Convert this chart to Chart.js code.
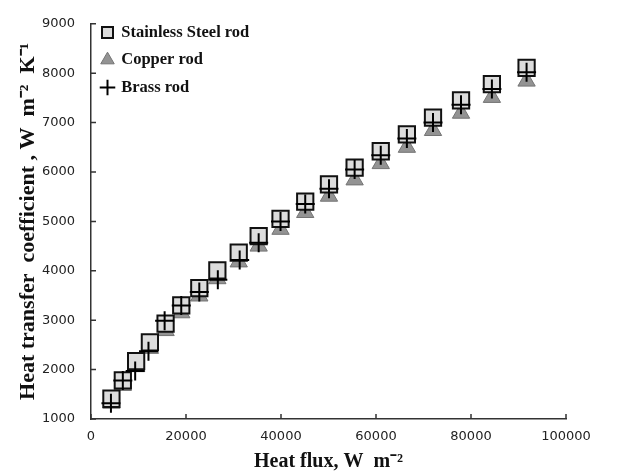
<!DOCTYPE html>
<html>
<head>
<meta charset="utf-8">
<script src="https://cdn.jsdelivr.net/npm/chart.js@4.4.1/dist/chart.umd.min.js"></script>
<style>
  html, body { margin: 0; padding: 0; background: #fff; }
  #wrap { width: 638px; height: 474px; }
</style>
</head>
<body>
<div id="wrap"><canvas id="c" width="638" height="474"></canvas></div>
<script>
// Heat flux (W m^-2) for each test point
const heatFlux = [4300, 6700, 9500, 12400, 15700, 19000, 22800, 26600, 31100, 35300,
                  39900, 45100, 50100, 55500, 61000, 66500, 72000, 77900, 84400, 91700];
const brassFlux = [4200, 6700, 9300, 12100, 15500, 19000, 22800, 26700, 31300, 35300,
                   39900, 45100, 50100, 55500, 61000, 66500, 72000, 77900, 84400, 91700];

// Heat transfer coefficient (W m^-2 K^-1) per rod material
const stainlessSteel = [1410, 1780, 2170, 2550, 2930, 3300, 3650, 4010, 4370, 4700,
                        5050, 5400, 5750, 6090, 6420, 6760, 7100, 7450, 7780, 8110];
const copper = [1320, 1680, 2060, 2430, 2790, 3150, 3490, 3840, 4180, 4500,
                4840, 5180, 5510, 5840, 6170, 6500, 6840, 7190, 7510, 7840];
const brass = [1320, 1780, 1970, 2370, 2990, 3300, 3570, 3820, 4220, 4570,
               5000, 5350, 5660, 6050, 6340, 6680, 7000, 7360, 7680, 8020];

const seriesNames = ['Stainless Steel rod', 'Copper rod', 'Brass rod'];

const xTicks = [0, 20000, 40000, 60000, 80000, 100000];
const yTicks = [1000, 2000, 3000, 4000, 5000, 6000, 7000, 8000, 9000];

const toPoints = (xs, ys) => xs.map((x, i) => ({ x, y: ys[i] }));

// Short tick marks pointing into the plot area
const innerTicks = {
  id: 'innerTicks',
  afterDraw(chart) {
    const { ctx, chartArea, scales } = chart;
    ctx.save();
    ctx.strokeStyle = '#333';
    ctx.lineWidth = 1.5;
    ctx.beginPath();
    scales.x.ticks.forEach((t, i) => {
      const px = scales.x.getPixelForTick(i);
      ctx.moveTo(px, chartArea.bottom);
      ctx.lineTo(px, chartArea.bottom - 5);
    });
    scales.y.ticks.forEach((t, i) => {
      const py = scales.y.getPixelForTick(i);
      ctx.moveTo(chartArea.left, py);
      ctx.lineTo(chartArea.left + 5, py);
    });
    ctx.stroke();
    ctx.restore();
  }
};

const serif = "'Liberation Serif', 'Times New Roman', serif";
const sans = "'DejaVu Sans', Verdana, sans-serif";

new Chart(document.getElementById('c'), {
  type: 'scatter',
  data: {
    datasets: [
      {
        label: seriesNames[0],
        data: toPoints(heatFlux, stainlessSteel),
        pointStyle: 'rect',
        pointRadius: 11.5,
        pointHoverRadius: 11.5,
        backgroundColor: '#dcdcdc',
        borderColor: '#111',
        borderWidth: 2,
        order: 1
      },
      {
        label: seriesNames[1],
        data: toPoints(heatFlux, copper),
        pointStyle: 'triangle',
        pointRadius: 10,
        pointHoverRadius: 10,
        backgroundColor: '#939393',
        borderColor: '#747474',
        borderWidth: 1,
        order: 2
      },
      {
        label: seriesNames[2],
        data: toPoints(brassFlux, brass),
        pointStyle: 'cross',
        pointRadius: 9.5,
        pointHoverRadius: 9.5,
        backgroundColor: '#000',
        borderColor: '#000',
        borderWidth: 2,
        order: 0
      }
    ]
  },
  options: {
    responsive: false,
    animation: false,
    devicePixelRatio: 1,
    layout: { padding: { left: 0, right: 72, top: 16, bottom: 0 } },
    plugins: {
      tooltip: { enabled: false },
      legend: {
        position: 'chartArea',
        align: 'start',
        title: {
          display: true,
          text: '',
          font: { size: 1 },
          padding: { top: 6, bottom: 6 }
        },
        labels: {
          usePointStyle: true,
          boxWidth: 11,
          boxHeight: 11,
          padding: 11,
          color: '#111',
          font: { family: serif, size: 16.5, weight: 'bold' },
          sort: (a, b) => a.datasetIndex - b.datasetIndex
        }
      }
    },
    scales: {
      x: {
        type: 'linear',
        min: 0,
        max: 100000,
        afterBuildTicks: (s) => { s.ticks = xTicks.map(v => ({ value: v })); },
        afterFit: (s) => { s.height = 55; },
        grid: { display: false, drawTicks: false },
        border: { display: true, color: '#333', width: 1.5 },
        ticks: {
          padding: 10,
          color: '#222',
          font: { family: sans, size: 13 },
          maxRotation: 0,
          callback: (v) => String(v)
        },
        title: {
          display: true,
          text: 'Heat flux, W  m\u207B\u00B2',
          color: '#111',
          font: { family: serif, size: 20, weight: 'bold' },
          padding: { top: 0, bottom: 0 }
        }
      },
      y: {
        type: 'linear',
        min: 1000,
        max: 9000,
        afterBuildTicks: (s) => { s.ticks = yTicks.map(v => ({ value: v })); },
        afterFit: (s) => { s.width = 91; },
        grid: { display: false, drawTicks: false },
        border: { display: true, color: '#333', width: 1.5 },
        ticks: {
          padding: 16,
          color: '#222',
          font: { family: sans, size: 13 },
          callback: (v) => String(v)
        },
        title: {
          display: true,
          text: 'Heat transfer  coefficient , W  m\u207B\u00B2  K\u207B\u00B9',
          color: '#111',
          font: { family: serif, size: 22, weight: 'bold' },
          padding: { top: 15, bottom: 0 }
        }
      }
    }
  },
  plugins: [innerTicks]
});
</script>
</body>
</html>
